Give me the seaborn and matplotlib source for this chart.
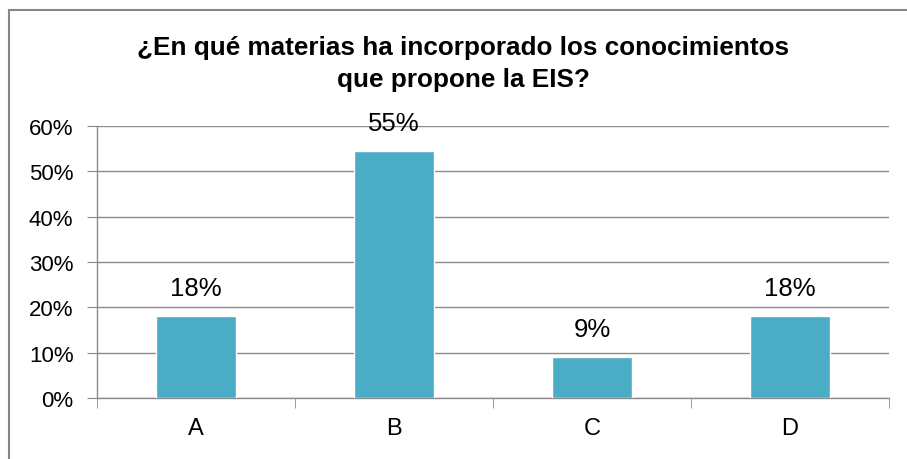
import matplotlib
matplotlib.use("Agg")
import matplotlib.pyplot as plt
import seaborn as sns
import numpy as np
from matplotlib.patches import Rectangle
from matplotlib.ticker import FuncFormatter

categories = ["A", "B", "C", "D"]
values = [18.18, 54.55, 9.09, 18.18]
labels = ["18%", "55%", "9%", "18%"]
yticks = [0, 10, 20, 30, 40, 50, 60]

sns.set_style("white")
plt.rcParams["font.family"] = ["Liberation Sans", "DejaVu Sans"]
plt.rcParams["text.color"] = "black"
plt.rcParams["xtick.color"] = "black"
plt.rcParams["ytick.color"] = "black"

fig = plt.figure(figsize=(9.07, 4.6), dpi=100)
ax = fig.add_axes([97 / 907, 1 - 399 / 460, (889 - 97) / 907, (399 - 127) / 460])

# outer chart border (only left/top visible in the reference)
fig.patches.append(Rectangle((9 / 907, -0.1), 1.2, 1 - 11 / 460 + 0.1,
                             transform=fig.transFigure, fill=False,
                             edgecolor="#868686", linewidth=1.5))

sns.barplot(x=categories, y=values, color="#4BACC6", saturation=1,
            width=0.4, ax=ax, zorder=3)

ax.set_xlim(-0.5, 3.5)
ax.set_ylim(0, 60)
ax.set_yticks(yticks)
ax.yaxis.set_major_formatter(FuncFormatter(lambda v, p: f"{int(v)}%"))
ax.grid(axis="y", color="#8c8c8c", linewidth=1, zorder=0)

for s in ["top", "right"]:
    ax.spines[s].set_visible(False)
for s in ["left", "bottom"]:
    ax.spines[s].set_color("#8c8c8c")
    ax.spines[s].set_linewidth(1)

ax.tick_params(axis="y", length=7, color="#8c8c8c", labelsize=16, pad=10,
               left=True, labelcolor="black")
ax.set_xticks(np.arange(4))
ax.set_xticklabels(categories, fontsize=17)
ax.tick_params(axis="x", length=0, pad=14, labelcolor="black")
# category boundary ticks
ax.set_xticks(np.arange(-0.5, 4.0, 1.0), minor=True)
ax.tick_params(axis="x", which="minor", length=7, color="#8c8c8c", bottom=True)

for i, (v, t) in enumerate(zip(values, labels)):
    ax.text(i, v + 3.4, t, ha="center", va="bottom", fontsize=18.5)

fig.text(0.511, 1 - 48 / 460, "¿En qué materias ha incorporado los conocimientos",
         ha="center", va="center", fontsize=18.8, fontweight="bold")
fig.text(0.511, 1 - 80 / 460, "que propone la EIS?",
         ha="center", va="center", fontsize=18.8, fontweight="bold")

fig.savefig("out.png", dpi=100)
